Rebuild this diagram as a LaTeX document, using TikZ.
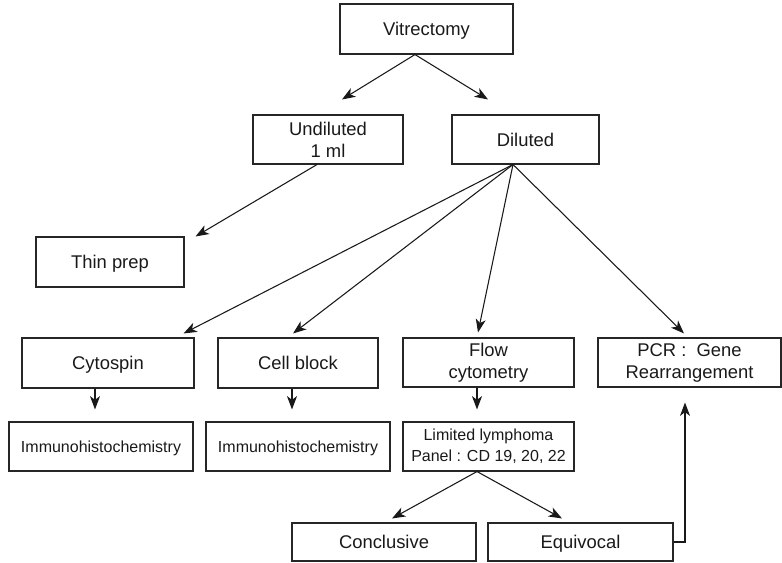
\documentclass[tikz,border=0pt]{standalone}
\usepackage{fontspec}
\setmainfont{Liberation Sans}
\usetikzlibrary{arrows.meta}
\begin{document}
\begin{tikzpicture}[x=0.75pt,y=-0.75pt,
  box/.style={draw=black!85, line width=0.8pt, rectangle, inner sep=0pt, align=center,
    text=black!90, font=\fontsize{13.8}{16.5}\selectfont},
  onebox/.style={box, text height=9.9pt, text depth=0pt},
  sbox/.style={box, font=\fontsize{12}{15.5}\selectfont},
  sonebox/.style={sbox, text height=8.6pt, text depth=0pt},
  arr/.style={-{Stealth[length=10pt,width=7.5pt,inset=2.8pt]}, line width=0.8pt, draw=black!90}]
\useasboundingbox (0,0) rectangle (782,563);
% nodes
\node[onebox, minimum width=129.75pt, minimum height=37.5pt] (vit) at (426.5,29) {Vitrectomy};
\node[box, minimum width=112.5pt, minimum height=36.75pt] (und) at (328,139.5) {Undiluted\\1 ml};
\node[onebox, minimum width=110.25pt, minimum height=36.75pt] (dil) at (525.5,139.5) {Diluted};
\node[onebox, minimum width=111pt, minimum height=37.5pt] (thin) at (110,262) {Thin prep};
\node[onebox, minimum width=129pt, minimum height=37.5pt] (cyto) at (108,363) {Cytospin};
\node[onebox, minimum width=120pt, minimum height=37.5pt] (cell) at (298,363) {Cell block};
\node[box, minimum width=128.25pt, minimum height=36.75pt] (flow) at (488.5,362.5) {Flow\\cytometry};
\node[box, minimum width=137.25pt, minimum height=36.75pt] (pcr) at (689.5,362.5) {PCR :\ \ Gene\\Rearrangement};
\node[sonebox, minimum width=138pt, minimum height=36.75pt] (imm1) at (101,446.5) {Immunohistochemistry};
\node[sonebox, minimum width=138pt, minimum height=36.75pt] (imm2) at (298,446.5) {Immunohistochemistry};
\node[sbox, minimum width=128.25pt, minimum height=36.75pt] (lim) at (488.5,446.5) {Limited lymphoma\\Panel : CD 19, 20, 22};
\node[onebox, minimum width=138pt, minimum height=28.5pt] (conc) at (384,542) {Conclusive};
\node[onebox, minimum width=138.75pt, minimum height=28.5pt] (equi) at (580.5,542) {Equivocal};
% arrow tips (free ends)
\coordinate (t1) at ([shift={(14,-15)}]und.north);
\coordinate (t2) at ([shift={(-37.5,-15)}]dil.north);
\coordinate (t3) at ([shift={(11,0)}]thin.north east);
\coordinate (t4) at ([shift={(-11,-4)}]cyto.north east);
\coordinate (t5) at ([shift={(-5,-4)}]cell.north);
\coordinate (t6) at ([shift={(-10.5,-5)}]flow.north);
\coordinate (t7) at ([shift={(-5.5,-4)}]pcr.north);
\coordinate (t8) at ([shift={(-6,-12)}]imm1.north);
\coordinate (t9) at ([shift={(-6,-12)}]imm2.north);
\coordinate (t10) at ([shift={(-11.5,-12)}]lim.north);
\coordinate (t11) at ([shift={(8,-4)}]conc.north);
\coordinate (t12) at ([shift={(-18.5,-4)}]equi.north);
\coordinate (t13) at ([shift={(-4.5,15)}]pcr.south);
% start points
\coordinate (s1) at ([shift={(-11.5,0)}]vit.south);
\coordinate (s2) at ([shift={(-11,0)}]und.south);
\coordinate (s3) at ([shift={(-12.5,0)}]dil.south);
\coordinate (s4) at ([shift={(-13,0)}]cyto.south);
\coordinate (s5) at ([shift={(-6,0)}]cell.south);
\coordinate (s6) at ([shift={(-11.5,0)}]flow.south);
\coordinate (s7) at ([shift={(-11.5,0)}]lim.south);
% connectors
\draw[arr] (s1) -- (t1);
\draw[arr] (s1) -- (t2);
\draw[arr] (s2) -- (t3);
\draw[arr] (s3) -- (t4);
\draw[arr] (s3) -- (t5);
\draw[arr] (s3) -- (t6);
\draw[arr] (s3) -- (t7);
\draw[arr] (s4) -- (t8);
\draw[arr] (s5) -- (t9);
\draw[arr] (s6) -- (t10);
\draw[arr] (s7) -- (t11);
\draw[arr] (s7) -- (t12);
\draw[arr] (equi.east) -| (t13);
\end{tikzpicture}
\end{document}
